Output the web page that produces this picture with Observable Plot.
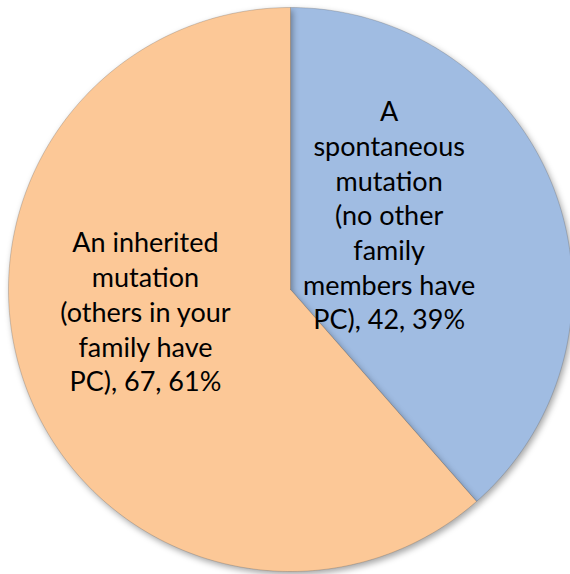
<!DOCTYPE html>
<html>
<head>
<meta charset="utf-8">
<script src="https://cdn.jsdelivr.net/npm/d3@7"></script>
<script src="https://cdn.jsdelivr.net/npm/@observablehq/plot@0.6"></script>
<style>
  html, body { margin: 0; padding: 0; background: #fff; }
  #chart svg path { filter: drop-shadow(2px 3px 3px rgba(0,0,0,0.35)); }
</style>
</head>
<body>
<div id="chart"></div>
<script>
// Data (clockwise from 12 o'clock)
const categories = [
  "A\nspontaneous\nmutation\n(no other\nfamily\nmembers have\nPC)",
  "An inherited\nmutation\n(others in your\nfamily have\nPC)"
];
const counts = [42, 67];
const percents = [39, 61];
const colors = ["#A0BCE2", "#FCC897"];

// label nudges (fraction of radius / angle offset in degrees), chosen to mimic original placement
const labelRadius = [0.44, 0.52];
const labelAngleShift = [-16.7, 12.3];

const W = 570, H = 574;
const cx = 290, cy = 289, R = 282;

const total = d3.sum(counts);
let acc = 0;
const slices = counts.map((v, i) => {
  const a0 = acc / total * 2 * Math.PI;
  acc += v;
  const a1 = acc / total * 2 * Math.PI;
  return {i, a0, a1, v};
});

// polygon points in unit-radius data space (x right, y up), angle clockwise from top
const pts = [];
slices.forEach(s => {
  pts.push({k: s.i, x: 0, y: 0});
  const n = Math.max(2, Math.ceil((s.a1 - s.a0) / (Math.PI / 180)));
  for (let j = 0; j <= n; j++) {
    const a = s.a0 + (s.a1 - s.a0) * j / n;
    pts.push({k: s.i, x: Math.sin(a), y: Math.cos(a)});
  }
  pts.push({k: s.i, x: 0, y: 0});
});

const labels = slices.map(s => {
  const mid = (s.a0 + s.a1) / 2 + labelAngleShift[s.i] * Math.PI / 180;
  const r = labelRadius[s.i];
  return {
    x: r * Math.sin(mid),
    y: r * Math.cos(mid),
    text: `${categories[s.i]}, ${counts[s.i]}, ${percents[s.i]}%`
  };
});

const plot = Plot.plot({
  width: W,
  height: H,
  margin: 0,
  x: {domain: [-cx / R, (W - cx) / R], range: [0, W], axis: null},
  y: {domain: [-(H - cy) / R, cy / R], range: [H, 0], axis: null},
  marks: [
    Plot.line(pts, {
      x: "x", y: "y", z: "k",
      fill: d => colors[d.k],
      stroke: "rgba(80,80,80,0.25)",
      strokeWidth: 1,
      curve: "linear"
    }),
    Plot.text(labels, {
      x: "x", y: "y", text: "text",
      fill: "#000",
      fontSize: 27,
      lineHeight: 1.285,
      lineAnchor: "middle",
      textAnchor: "middle",
      fontFamily: "Lato, 'Open Sans', sans-serif"
    })
  ]
});
plot.style.fontFamily = "Lato, sans-serif";
document.getElementById("chart").appendChild(plot);
</script>
</body>
</html>
